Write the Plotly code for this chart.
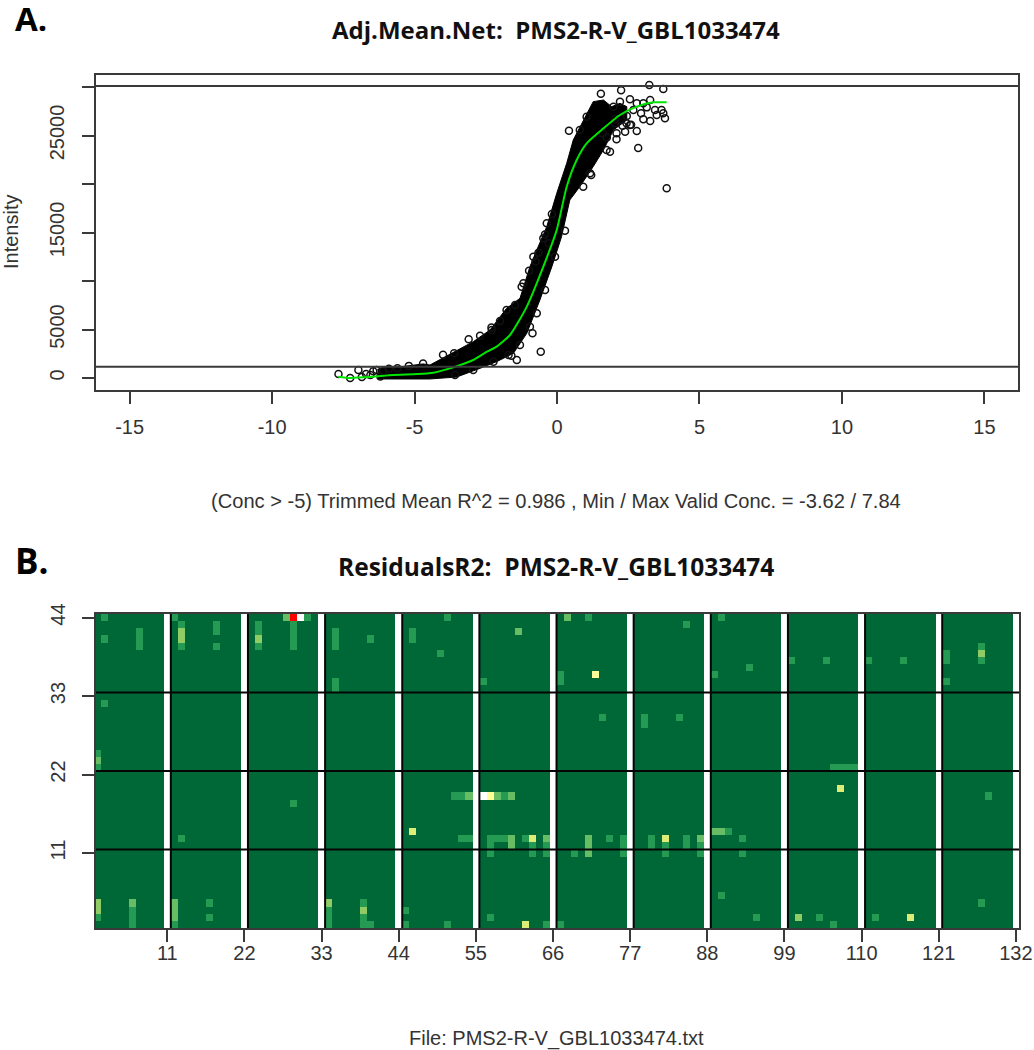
import plotly.graph_objects as go

FONT = "Liberation Sans"
TITLE_FONT = "Open Sans"

# ---------- Panel A data ----------
fit_x = [-7.68, -7.26, -6.5, -5.75, -4.9, -4.34, -3.64, -2.94, -2.46, -2.12, -1.65, -1.06, -0.48, -0.01,
         0.34, 0.69, 1.04, 1.63, 2.21, 2.80, 3.38, 3.85]
fit_y = [134, 0, 120, 309, 400, 550, 1100, 1856, 2715, 3230, 4433, 7354, 11478, 15258,
         19725, 22474, 24192, 25738, 27113, 27972, 28419, 28419]

mass_upper_x = [-6.3, -6.09, -5.5, -4.70, -4.46, -3.64, -2.94, -2.35, -1.77, -1.30, -0.95, -0.71, -0.36,
                -0.01, 0.34, 0.57, 0.92, 1.27, 1.63, 1.92, 2.21, 2.45]
mass_upper_y = [900, 1100, 1150, 1450, 1340, 2612, 3746, 4948, 7182, 8213, 11478, 13196, 15600,
                19037, 22130, 24536, 26598, 28488, 28660, 27972, 28316, 27972]
mass_lower_x = [2.45, 1.98, 1.63, 1.27, 0.80, 0.45, 0.16, -0.18, -0.60, -1.06, -1.53, -2.12, -2.70,
                -3.52, -4.46, -6.3]
mass_lower_y = [26598, 25567, 23505, 21787, 19725, 18351, 14570, 11478, 8041, 4605, 2543, 1684, 997,
                100, -100, -100]

scatter_x = [1.54, 2.25, 3.24, 3.73, 0.42, 2.85, 3.85, 3.79, 2.80, 2.09, 1.86, 0.28, -0.18, -0.86, -0.57,
             -1.41, -2.70, -2.0, -1.18, -0.98, -0.65, -3.61,
             2.56, 2.80, 3.03, 3.27, 3.44, 3.67, 3.27, 3.03, 2.39, 2.21, 1.98, 3.50, 3.73, 2.68,
             2.45, 2.95, 3.15, 2.60, 2.30, 2.05, 1.75, 1.60,
             -7.67, -7.26, -6.97, -6.7, -6.33, -6.55, -6.85, -6.1,
             -0.28, -0.42, -0.75, -1.3, -1.6, -2.3, -3.1, -4.0, -4.7, -5.2,
             -1.77, -1.47, -2.29, -0.36, -0.48, -0.83, -1.24, 1.16, 0.92, 1.2, 1.74, 2.09, 2.44, 2.04, 2.56,
             0.8, 1.04, -6.45, -6.2, -5.9, -5.6,
             -3.58, -2.94, -2.23, -1.7, -0.95, -0.71, -0.42, -0.07]
scatter_y = [29313, 29656, 30206, 29794, 25498, 23711, 19553, 26770, 25464, 24605, 23333, 15189, 16907,
             4605, 2715, 1856, 4364, 5876, 9759, 11065, 12921, 2543,
             28729, 28316, 28316, 28660, 27629, 27629, 26495, 26667, 25395, 28488, 27972, 27113, 27285, 27629,
             27000, 27300, 27900, 26100, 26000, 26700, 24800, 25200,
             412, 0, 825, 400, 825, 300, 100, 700,
             13900, 14800, 12000, 3400, 2300, 5200, 4000, 2400, 1500, 1250,
             7010, 7526, 4948, 15944, 14399, 12509, 9416, 21100, 19725, 20928, 23505, 25223, 26255, 26255, 26082,
             25567, 26938, 700, 150, 950, 1000,
             309, 825, 1684, 2371, 5292, 6667, 9072, 12505]

hline_high = 30100
hline_low = 1150

xticks_a = [-15, -10, -5, 0, 5, 10, 15]
yticks_a = [0, 5000, 10000, 15000, 20000, 25000, 30000]
ylabels_a = ["0", "5000", "", "15000", "", "25000", ""]

# ---------- Panel B data ----------
n_cols = 132
n_rows = 44
sep_cols = [11, 22, 33, 44, 55, 66, 77, 88, 99, 110, 121, 132]
missing_cells = [(30, 44), (56, 19)]
cell_col = [2, 2, 7, 7, 7, 2, 1, 1, 1, 1, 1, 1, 6, 6, 6, 6,
            12, 13, 13, 13, 13, 18, 18, 18, 13, 12, 12, 12, 12, 17, 17,
            24, 24, 24, 24, 28, 29, 31, 29, 29, 29, 29, 29,
            35, 35, 35, 35, 35, 40, 34, 34, 34, 34, 39, 39, 39, 39, 40,
            51, 46, 46, 50, 61, 56, 68, 71, 85, 90, 67, 67, 72, 89, 73, 79, 79, 84,
            52, 53, 54, 57, 58, 59, 60, 46,
            53, 54, 57, 58, 59, 60, 60, 57, 62, 63, 63, 63, 65, 65, 65, 57,
            69, 71, 71, 71, 74, 76, 76, 76, 80, 80, 82, 82, 82, 85, 85, 87, 87, 87,
            89, 90, 91, 90, 45, 45, 51, 57, 62, 65, 67,
            94, 100, 105, 111, 116, 122, 122, 122, 127, 127, 127,
            106, 107, 108, 109, 107, 128, 93, 93, 95, 101, 104, 106, 112, 117, 127]
cell_row = [44, 41, 42, 41, 40, 32, 25, 24, 23, 4, 3, 2, 4, 3, 2, 1,
            44, 43, 42, 41, 40, 43, 42, 40, 13, 4, 3, 2, 1, 4, 2,
            43, 42, 41, 40, 44, 44, 44, 43, 42, 41, 40, 18,
            42, 41, 40, 35, 34, 41, 4, 3, 2, 1, 4, 3, 2, 1, 1,
            44, 42, 41, 39, 42, 35, 44, 44, 43, 44, 36, 35, 36, 36, 30, 30, 29, 30,
            19, 19, 19, 19, 19, 19, 19, 14,
            13, 13, 13, 13, 13, 13, 12, 12, 13, 13, 12, 11, 13, 12, 11, 11,
            11, 13, 12, 11, 13, 13, 12, 11, 13, 12, 13, 12, 11, 13, 12, 13, 12, 11,
            14, 14, 14, 5, 3, 1, 1, 2, 1, 1, 1,
            37, 38, 38, 38, 38, 39, 38, 35, 40, 39, 38,
            23, 23, 23, 23, 20, 19, 13, 11, 2, 2, 2, 1, 2, 2, 4]
cell_level = [1, 1, 1, 1, 1, 1, 1, 2, 1, 3, 3, 1, 2, 1, 1, 1,
              1, 1, 3, 3, 1, 1, 1, 1, 1, 2, 2, 2, 1, 1, 1,
              1, 1, 3, 1, 2, 6, 1, 1, 1, 1, 1, 1,
              1, 1, 1, 1, 1, 1, 3, 1, 1, 1, 1, 3, 1, 1, 1,
              1, 1, 1, 1, 2, 1, 2, 1, 1, 1, 1, 1, 5, 1, 1, 1, 1, 1,
              1, 1, 2, 5, 2, 1, 2, 4,
              1, 1, 1, 1, 1, 2, 2, 1, 1, 4, 1, 1, 2, 1, 1, 1,
              1, 2, 2, 2, 1, 1, 1, 1, 1, 1, 4, 1, 1, 1, 1, 2, 1, 1,
              2, 2, 1, 1, 1, 1, 1, 1, 4, 1, 1,
              1, 1, 1, 1, 1, 1, 1, 1, 1, 3, 1,
              1, 1, 1, 1, 4, 1, 1, 1, 1, 3, 1, 1, 1, 4, 1]

level_colors = ["#006837", "#259a52", "#66bd63", "#8fcc66", "#dcec74", "#ffff9a", "#ff0000"]
grid_b = [11.5, 22.5, 33.5]
grid_b_v = [11.5, 22.5, 33.5, 44.5, 55.5, 66.5, 77.5, 88.5, 99.5, 110.5, 121.5]
xticks_b = [11, 22, 33, 44, 55, 66, 77, 88, 99, 110, 121, 132]
yticks_b = [11, 22, 33, 44]

# ---------- Build ----------
W, H = 1034, 1050
def dx(a, b): return [a / W, b / W]
def dy(top, bot): return [1 - bot / H, 1 - top / H]

fig = go.Figure()
fig.add_trace(go.Scatter(x=mass_upper_x + mass_lower_x, y=mass_upper_y + mass_lower_y, mode="lines",
                         fill="toself", fillcolor="#000000", line=dict(color="#000000", width=1),
                         hoverinfo="skip", showlegend=False))
fig.add_trace(go.Scatter(x=scatter_x, y=scatter_y, mode="markers", showlegend=False,
                         marker=dict(symbol="circle-open", size=7, color="#111111", line=dict(width=1.5))))
fig.add_trace(go.Scatter(x=fit_x, y=fit_y, mode="lines", line=dict(color="#00e600", width=2, shape="spline", smoothing=0.6),
                         showlegend=False))

z = [[0 for _ in range(n_cols)] for _ in range(n_rows)]
for c, r, v in zip(cell_col, cell_row, cell_level):
    z[r - 1][c - 1] = v
for c in sep_cols:
    for r in range(n_rows):
        z[r][c - 1] = None
for c, r in missing_cells:
    z[r - 1][c - 1] = None

n = len(level_colors)
scale = []
for i, col in enumerate(level_colors):
    scale += [[i / n, col], [(i + 1) / n, col]]
fig.add_trace(go.Heatmap(z=z, x=list(range(1, n_cols + 1)), y=list(range(1, n_rows + 1)),
                         colorscale=scale, zmin=-0.5, zmax=n - 0.5, showscale=False,
                         hoverongaps=False, xaxis="x2", yaxis="y2"))

line_col = "#3a3a3a"
for v in (hline_high, hline_low):
    fig.add_shape(type="line", xref="paper", yref="y", x0=96 / W, x1=1018 / W, y0=v, y1=v,
                  line=dict(color=line_col, width=2))
for v in grid_b:
    fig.add_shape(type="line", xref="x2 domain", yref="y2", x0=0, x1=1, y0=v, y1=v,
                  line=dict(color="#050505", width=2), layer="above")
for v in grid_b_v:
    fig.add_shape(type="line", xref="x2", yref="y2 domain", x0=v, x1=v, y0=0, y1=1,
                  line=dict(color="#050505", width=2), layer="above")

axis_common = dict(showgrid=False, zeroline=False, showline=True, mirror=True, linecolor=line_col, linewidth=2,
                   automargin=False, ticks="outside", ticklen=12, tickwidth=1.5, tickcolor=line_col,
                   tickfont=dict(family=FONT, size=20, color="#333333"))
fig.update_layout(
    width=W, height=H, autosize=False, margin=dict(l=0, r=0, t=0, b=0),
    paper_bgcolor="white", plot_bgcolor="white", showlegend=False,
    xaxis=dict(domain=dx(96, 1018), range=[-16.18, 16.18], tickmode="array", tickvals=xticks_a,
               ticktext=[str(v) for v in xticks_a], anchor="y", ticklabelstandoff=6, **axis_common),
    yaxis=dict(domain=dy(75, 390), range=[-1237, 31237], tickmode="array", tickvals=yticks_a,
               ticktext=ylabels_a, tickangle=-90, anchor="x", ticklabelstandoff=10, **axis_common),
    xaxis2=dict(domain=dx(96, 1019), range=[0.83, 132.45], tickmode="array", tickvals=xticks_b,
                ticktext=[str(v) for v in xticks_b], anchor="y2", ticklabelstandoff=-6, **axis_common),
    yaxis2=dict(domain=dy(614, 928), range=[0.5, 44.5], tickmode="array", tickvals=yticks_b,
                ticktext=[str(v) for v in yticks_b], tickangle=-90, anchor="x2", ticklabelstandoff=9, **axis_common),
)

def note(text, x, y, size, bold=False, family=FONT, color="#1a1a1a", angle=0, xanchor="center"):
    fig.add_annotation(text=("<b>%s</b>" % text) if bold else text, x=x / W, y=1 - y / H, xref="paper", yref="paper",
                       showarrow=False, xanchor=xanchor, yanchor="middle", textangle=angle,
                       font=dict(family=family, size=size, color=color))

note("A.", 13, 19, 33, bold=True, family=TITLE_FONT, color="#000000", xanchor="left")
note("B.", 13, 560, 35, bold=True, family=TITLE_FONT, color="#000000", xanchor="left")
note("Adj.Mean.Net:\u00a0\u00a0PMS2-R-V_GBL1033474", 556, 29, 24, bold=True, family=TITLE_FONT, color="#111111")
note("ResidualsR2:\u00a0\u00a0PMS2-R-V_GBL1033474", 556, 566, 24.5, bold=True, family=TITLE_FONT, color="#111111")
note("Intensity", 11, 232, 20, angle=-90, color="#333333")
note("(Conc &gt; -5) Trimmed Mean R^2 = 0.986 , Min / Max Valid Conc. = -3.62 / 7.84", 556, 501, 20.1, color="#333333")
note("File: PMS2-R-V_GBL1033474.txt", 556, 1038, 20, color="#333333")

fig.write_html("out.html", config={"displayModeBar": False},
               post_script="var p=document.querySelector('.plotly-graph-div').parentElement;p.style.position='absolute';p.style.left='0px';p.style.top='0px';")
